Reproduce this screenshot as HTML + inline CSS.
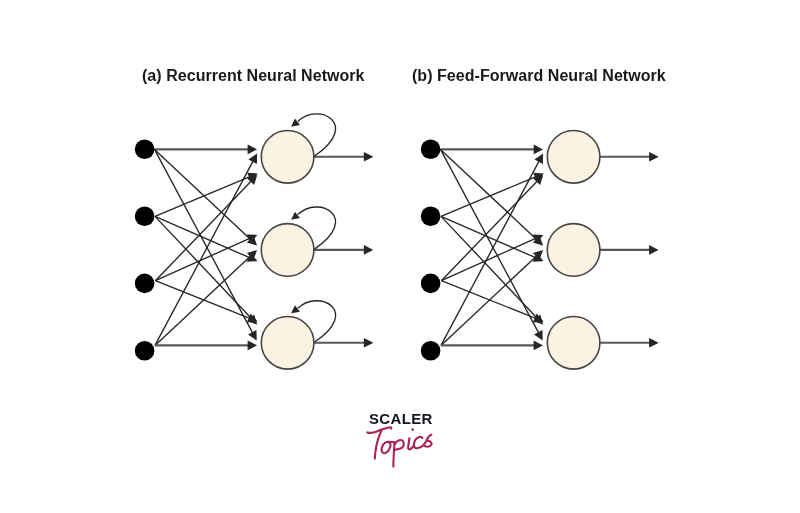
<!DOCTYPE html>
<html><head><meta charset="utf-8"><style>
html,body{margin:0;padding:0;background:#fff;}
body{width:800px;height:513px;overflow:hidden;position:relative;}
.t{position:absolute;font-family:"Liberation Sans",sans-serif;font-weight:bold;color:#1a1a1a;white-space:nowrap;will-change:transform;font-size:16px;line-height:1;letter-spacing:0.04px;}
svg{position:absolute;left:0;top:0;}
</style></head><body>
<div class="t" id="ta" style="left:142px;top:68px;">(a) Recurrent Neural Network</div>
<div class="t" id="tb" style="left:412px;top:68px;">(b) Feed-Forward Neural Network</div>
<svg width="800" height="513" viewBox="0 0 800 513">
<g stroke="#262626" stroke-width="1.35" fill="#262626">
<line x1="154.50" y1="149.40" x2="249.30" y2="149.40" stroke="#585858" stroke-width="2.1"/><polygon points="255.60,149.40 248.30,153.10 248.30,145.70"/>
<line x1="155.00" y1="345.40" x2="253.44" y2="160.36"/><polygon points="256.40,154.80 256.24,162.98 249.70,159.51"/>
<line x1="155.00" y1="216.40" x2="250.59" y2="176.43"/><polygon points="256.40,174.00 251.09,180.23 248.24,173.40"/>
<line x1="155.40" y1="280.70" x2="251.83" y2="180.54"/><polygon points="256.20,176.00 253.80,183.83 248.47,178.69"/>
<line x1="154.50" y1="149.40" x2="251.40" y2="240.19"/><polygon points="256.00,244.50 248.14,242.21 253.20,236.81"/>
<line x1="155.40" y1="280.70" x2="250.25" y2="238.08"/><polygon points="256.00,235.50 250.86,241.87 247.82,235.12"/>
<line x1="155.00" y1="216.40" x2="250.23" y2="257.98"/><polygon points="256.00,260.50 247.83,260.97 250.79,254.19"/>
<line x1="155.00" y1="345.40" x2="251.40" y2="255.30"/><polygon points="256.00,251.00 253.19,258.69 248.14,253.28"/>
<line x1="155.00" y1="216.40" x2="251.87" y2="318.92"/><polygon points="256.20,323.50 248.50,320.74 253.88,315.65"/>
<line x1="155.40" y1="280.70" x2="250.35" y2="318.66"/><polygon points="256.20,321.00 248.05,321.73 250.80,314.85"/>
<line x1="154.50" y1="149.40" x2="253.03" y2="333.64"/><polygon points="256.00,339.20 249.29,334.51 255.82,331.02"/>
<line x1="155.00" y1="345.40" x2="249.30" y2="345.40" stroke="#585858" stroke-width="2.1"/><polygon points="255.60,345.40 248.30,349.10 248.30,341.70"/>
<line x1="313.90" y1="156.80" x2="365.50" y2="156.80" stroke="#585858" stroke-width="2.1"/><polygon points="371.80,156.80 364.50,160.50 364.50,153.10"/>
<line x1="313.90" y1="249.90" x2="365.50" y2="249.90" stroke="#585858" stroke-width="2.1"/><polygon points="371.80,249.90 364.50,253.60 364.50,246.20"/>
<line x1="313.90" y1="342.80" x2="365.50" y2="342.80" stroke="#585858" stroke-width="2.1"/><polygon points="371.80,342.80 364.50,346.50 364.50,339.10"/>
</g>
<circle cx="144.60" cy="149.2" r="9.8" fill="#000"/>
<circle cx="144.60" cy="216.3" r="9.8" fill="#000"/>
<circle cx="144.60" cy="283.4" r="9.8" fill="#000"/>
<circle cx="144.60" cy="350.7" r="9.8" fill="#000"/>
<circle cx="287.60" cy="156.8" r="26.3" fill="#fbf2e2" stroke="#454545" stroke-width="1.6"/>
<circle cx="287.60" cy="249.9" r="26.3" fill="#fbf2e2" stroke="#454545" stroke-width="1.6"/>
<circle cx="287.60" cy="342.8" r="26.3" fill="#fbf2e2" stroke="#454545" stroke-width="1.6"/>
<path d="M314.50,156.00 C361.00,124.50 319.00,101.20 297.80,121.50" fill="none" stroke="#262626" stroke-width="1.35"/>
<polygon fill="#262626" points="291.10,126.70 294.89,118.55 299.93,125.01"/>
<path d="M314.50,249.10 C361.00,217.60 319.00,194.30 297.80,214.60" fill="none" stroke="#262626" stroke-width="1.35"/>
<polygon fill="#262626" points="291.10,219.80 294.89,211.65 299.93,218.11"/>
<path d="M314.50,342.00 C361.00,311.13 319.00,288.30 297.80,308.18" fill="none" stroke="#262626" stroke-width="1.35"/>
<polygon fill="#262626" points="291.10,313.29 294.97,305.17 299.95,311.69"/>
<g stroke="#262626" stroke-width="1.35" fill="#262626">
<line x1="440.50" y1="149.40" x2="535.30" y2="149.40" stroke="#585858" stroke-width="2.1"/><polygon points="541.60,149.40 534.30,153.10 534.30,145.70"/>
<line x1="441.00" y1="345.40" x2="539.44" y2="160.36"/><polygon points="542.40,154.80 542.24,162.98 535.70,159.51"/>
<line x1="441.00" y1="216.40" x2="536.59" y2="176.43"/><polygon points="542.40,174.00 537.09,180.23 534.24,173.40"/>
<line x1="441.40" y1="280.70" x2="537.83" y2="180.54"/><polygon points="542.20,176.00 539.80,183.83 534.47,178.69"/>
<line x1="440.50" y1="149.40" x2="537.40" y2="240.19"/><polygon points="542.00,244.50 534.14,242.21 539.20,236.81"/>
<line x1="441.40" y1="280.70" x2="536.25" y2="238.08"/><polygon points="542.00,235.50 536.86,241.87 533.82,235.12"/>
<line x1="441.00" y1="216.40" x2="536.23" y2="257.98"/><polygon points="542.00,260.50 533.83,260.97 536.79,254.19"/>
<line x1="441.00" y1="345.40" x2="537.40" y2="255.30"/><polygon points="542.00,251.00 539.19,258.69 534.14,253.28"/>
<line x1="441.00" y1="216.40" x2="537.87" y2="318.92"/><polygon points="542.20,323.50 534.50,320.74 539.88,315.65"/>
<line x1="441.40" y1="280.70" x2="536.35" y2="318.66"/><polygon points="542.20,321.00 534.05,321.73 536.80,314.85"/>
<line x1="440.50" y1="149.40" x2="539.03" y2="333.64"/><polygon points="542.00,339.20 535.29,334.51 541.82,331.02"/>
<line x1="441.00" y1="345.40" x2="535.30" y2="345.40" stroke="#585858" stroke-width="2.1"/><polygon points="541.60,345.40 534.30,349.10 534.30,341.70"/>
<line x1="599.90" y1="156.80" x2="650.80" y2="156.80" stroke="#585858" stroke-width="2.1"/><polygon points="657.10,156.80 649.80,160.50 649.80,153.10"/>
<line x1="599.90" y1="249.90" x2="650.80" y2="249.90" stroke="#585858" stroke-width="2.1"/><polygon points="657.10,249.90 649.80,253.60 649.80,246.20"/>
<line x1="599.90" y1="342.80" x2="650.80" y2="342.80" stroke="#585858" stroke-width="2.1"/><polygon points="657.10,342.80 649.80,346.50 649.80,339.10"/>
</g>
<circle cx="430.60" cy="149.2" r="9.8" fill="#000"/>
<circle cx="430.60" cy="216.3" r="9.8" fill="#000"/>
<circle cx="430.60" cy="283.4" r="9.8" fill="#000"/>
<circle cx="430.60" cy="350.7" r="9.8" fill="#000"/>
<circle cx="573.60" cy="156.8" r="26.3" fill="#fbf2e2" stroke="#454545" stroke-width="1.6"/>
<circle cx="573.60" cy="249.9" r="26.3" fill="#fbf2e2" stroke="#454545" stroke-width="1.6"/>
<circle cx="573.60" cy="342.8" r="26.3" fill="#fbf2e2" stroke="#454545" stroke-width="1.6"/>
</svg>
<div class="t" id="sc" style="left:369px;top:411px;font-size:15px;letter-spacing:0.35px;color:#15151f;">SCALER</div>
<svg width="800" height="513" viewBox="0 0 800 513" style="position:absolute;left:0;top:0">
<g fill="none" stroke="#ab2259" stroke-width="2.1" stroke-linecap="round" stroke-linejoin="round">
<path d="M367.2,432.4 C370,433.2 372,433 374.3,432.3 C377,431.5 379,430.5 381,429.8 C384,428.8 388,427.3 390.5,427.2 C391.3,427.3 391.5,428 391.2,428.6"/>
<path d="M381.5,430.1 C380.5,433 379.6,435 379.1,436.2 C377.8,440 376.8,443.5 376.2,446.7 C375.5,450.5 375,455 374.8,458.6"/>
<path d="M386.7,441.9 C384,442.5 381.8,446 381.5,449.5 C381.5,452 383,453.5 384.8,453.3 C387.5,452.8 390,449 390.5,445.7 C390.8,443 389,441.5 386.7,441.9 C389,441.8 391.5,442 393.8,442"/>
<path d="M394.5,442 C394,450 393.5,458 393.3,466.6"/>
<path d="M394.8,444.5 C395.5,442.5 397,441.2 399,440.3 C401.5,439.5 403.5,440.5 403.8,443.3 C403.8,446 402.5,448 400.4,448.4 C398.5,449 396.5,449.5 395.8,449.6"/>
<path d="M409.4,438.4 C409,441.5 408.3,445 408.1,447.6 C408.1,449.2 409,449.6 410,449.2 C411.2,448.6 412.3,447.5 413.2,446.3"/>
<path d="M422.3,438 C421.7,436.9 420.5,436.6 419.3,437 C416.3,438 414.2,441.2 413.9,444.3 C413.7,446.8 415,448.4 417,448.2 C419.5,447.9 421.8,446.8 423,445.6 C424.6,444 426,442 427,440"/>
<path d="M431.4,434.6 C429.5,435.5 427.5,437.5 426.8,439.8 C427.5,441 429.5,440.8 430.3,441.5 C431.5,442.5 431.8,443.5 431.4,444.4 C430.5,446 428.5,446.8 427.4,446.7 C426.3,446.7 425.3,446.4 424.5,446.1"/>
</g>
<circle cx="412.7" cy="429.6" r="1.25" fill="#7a1c44"/>
</svg>
</body></html>
